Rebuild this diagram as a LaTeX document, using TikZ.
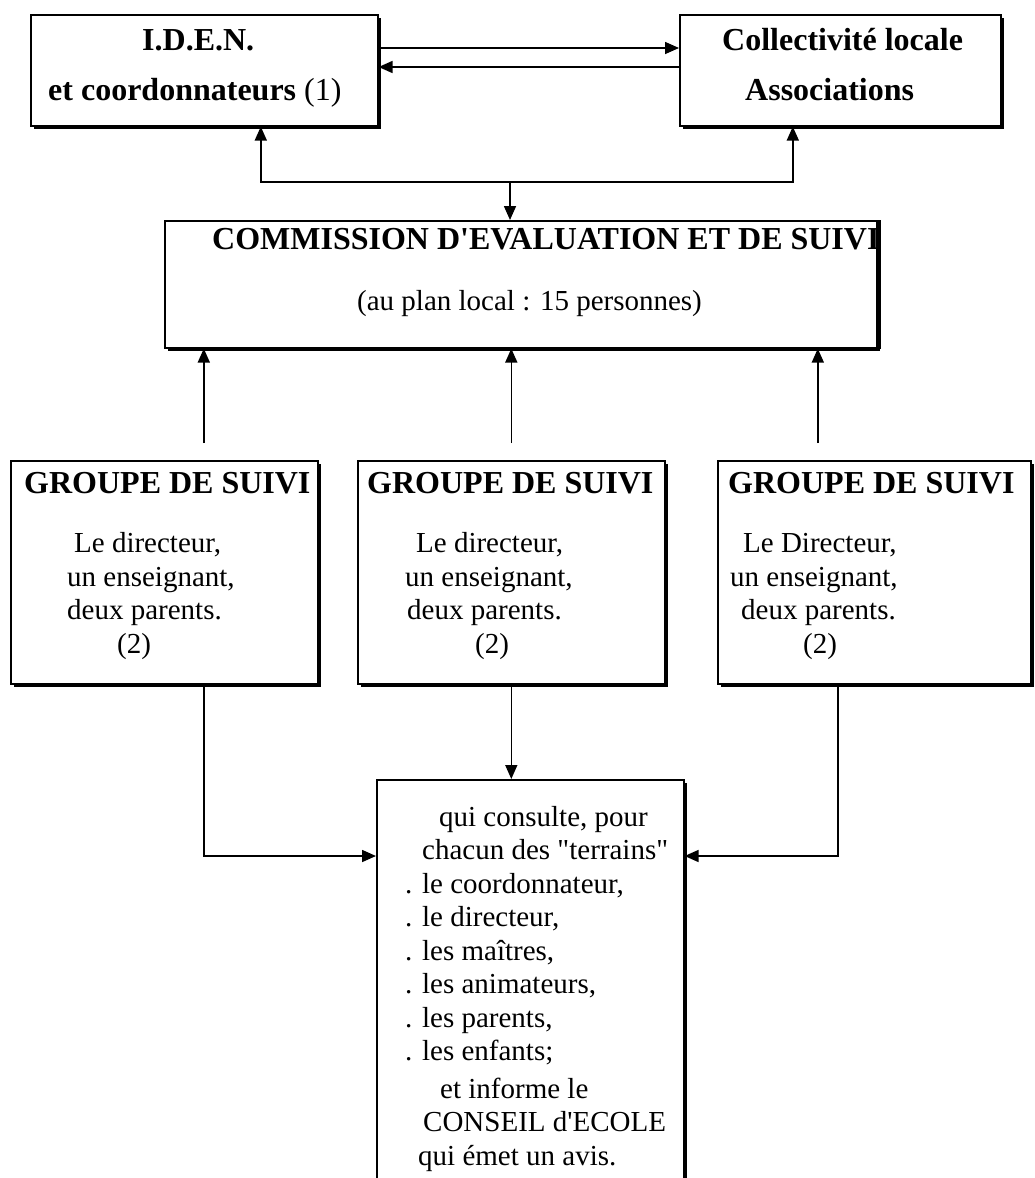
\documentclass[tikz,border=0pt]{standalone}
\usepackage{fontspec}
\setmainfont{Liberation Serif}[Ligatures=TeXOff]
\usetikzlibrary{arrows.meta, shadows}

\begin{document}
\begin{tikzpicture}[x=1pt, y=-1pt, >={Triangle[length=14pt, width=12pt]},
box/.style= {rectangle, draw=black, line width=1.6pt, fill=white, inner sep=0pt, anchor=north west,
             drop shadow={shadow xshift=3.5pt, shadow yshift=-3.5pt, opacity=1, fill=black}},
txt/.style= {anchor=base west, inner sep=0pt, align=left, font=\fontsize{29}{33.5}\selectfont},
ttl/.style= {anchor=base west, inner sep=0pt, align=left, font=\bfseries\fontsize{32}{50}\selectfont},
link/.style= {line width=1.6pt} ]
\useasboundingbox (0,0) rectangle (1034,1178);
% boxes
\node (I) [box, minimum width=347pt, minimum height=111pt] at (30,14) {};
\node (C) [box, minimum width=321pt, minimum height=111pt] at (679,14) {};
\node (E) [box, minimum width=712pt, minimum height=127pt] at (164,220) {};
\node (G1) [box, minimum width=307pt, minimum height=223pt] at (10,460) {};
\node (G2) [box, minimum width=307pt, minimum height=223pt] at (357,460) {};
\node (G3) [box, minimum width=313pt, minimum height=223pt] at (717,460) {};
\node (S) [box, minimum width=307pt, minimum height=450pt] at (376,779) {};
% texts (multi-line nodes sit on their last line)
\node (It) [ttl] at (48,100) {\hspace*{94pt}I.D.E.N.\\et coordonnateurs {\mdseries(1)}};
\node (Ct) [ttl] at (722,100) {Collectivité locale\\\hspace*{23pt}Associations};
\node (Et) [ttl] at (212,249) {COMMISSION D'EVALUATION ET DE SUIVI};
\node (Es) [txt] at (357,310) {(au plan local : 15 personnes)};
\node (G1t) [ttl] at (24,493) {GROUPE DE SUIVI};
\node (G2t) [ttl] at (367,493) {GROUPE DE SUIVI};
\node (G3t) [ttl] at (728,493) {GROUPE DE SUIVI};
\node (G1s) [txt] at (67,653) {\hspace*{7pt}Le directeur,\\un enseignant,\\deux parents.\\\hspace*{50pt}(2)};
\node (G2s) [txt] at (405,653) {\hspace*{11pt}Le directeur,\\un enseignant,\\\hspace*{2pt}deux parents.\\\hspace*{70pt}(2)};
\node (G3s) [txt] at (730,653) {\hspace*{13pt}Le Directeur,\\un enseignant,\\\hspace*{11pt}deux parents.\\\hspace*{73pt}(2)};
\node (St) [txt] at (405,1165) {\hspace*{34pt}qui consulte, pour\\\hspace*{17pt}chacun des "terrains"\\. le coordonnateur,\\. le directeur,\\. les maîtres,\\. les animateurs,\\. les parents,\\. les enfants;\\[4pt]\hspace*{35pt}et informe le\\\hspace*{18pt}CONSEIL d'ECOLE\\\hspace*{13pt}qui émet un avis.};
% right edge of the commission box over its title
\draw[line width=4pt] ([xshift=1.5pt]E.north east) -- ([xshift=1.5pt]E.south east);
% connectors
\coordinate (J) at (510,182);
\draw[link, ->] ([yshift=-34pt]I.north east) -- ([yshift=-34pt]C.north west);
\draw[link, ->] ([yshift=-53pt]C.north west) -- ([yshift=-53pt]I.north east);
\draw[link, ->] (J) -- (J |- E.north);
\draw[link, ->] (J) -| ([xshift=56.5pt]I.south);
\draw[link, ->] (J) -| ([xshift=-47.5pt]C.south);
\draw[link, ->] ([xshift=39.5pt, yshift=17pt]G1.north) -- ([xshift=39.5pt]G1.north |- E.south);
\draw[link, ->] ([yshift=17pt]G2.north) -- (G2.north |- E.south);
\draw[link, ->] ([xshift=-56.5pt, yshift=17pt]G3.north) -- ([xshift=-56.5pt]G3.north |- E.south);
\draw[link, ->] ([xshift=39.5pt]G1.south) |- ([yshift=-77pt]S.north west);
\draw[link, ->] (G2.south) -- (G2.south |- S.north);
\draw[link, ->] ([xshift=-36.5pt]G3.south) |- ([yshift=-77pt]S.north east);
\end{tikzpicture}
\end{document}
